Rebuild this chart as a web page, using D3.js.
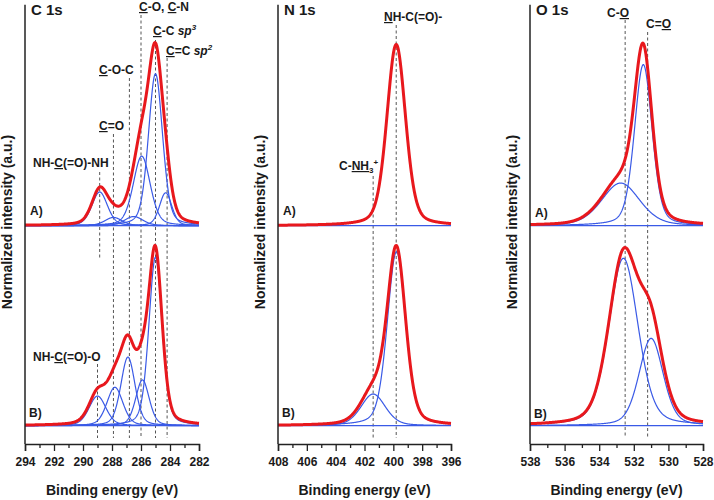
<!DOCTYPE html>
<html><head><meta charset="utf-8">
<script src="https://cdn.jsdelivr.net/npm/d3@7"></script>
<style>
body{margin:0;background:#fff;}
svg text{font-family:"Liberation Sans",Arial,sans-serif;font-weight:bold;fill:#1a1a1a;}
</style></head><body>
<svg id="chart" width="714" height="500"></svg>
<script>
// ---------------- data ----------------
const c1sTicks = [294,293,292,291,290,289,288,287,286,285,284,283,282];
const n1sTicks = [408,407,406,405,404,403,402,401,400,399,398,397,396];
const o1sTicks = [538,537,536,535,534,533,532,531,530,529,528];

// fitted components: centre (eV), peak height (normalised), FWHM (eV)
const c1sA_centers = [288.85, 287.9, 286.5, 285.95, 285.0, 284.3];
const c1sA_heights = [0.184, 0.045, 0.05, 0.38, 0.83, 0.18];
const c1sA_fwhm    = [1.27, 1.4, 1.5, 1.38, 1.15, 1.0];

const c1sB_centers = [289.0, 287.8, 286.9, 285.9, 285.0];
const c1sB_heights = [0.162, 0.21, 0.375, 0.25, 0.92];
const c1sB_fwhm    = [1.38, 1.3, 1.15, 1.1, 1.08];

const n1sA_centers = [399.8];
const n1sA_heights = [0.99];
const n1sA_fwhm    = [1.53];

const n1sB_centers = [401.4, 399.78];
const n1sB_heights = [0.173, 0.95];
const n1sB_fwhm    = [2.0, 1.5];

const o1sA_centers = [532.76, 531.45];
const o1sA_heights = [0.233, 0.88];
const o1sA_fwhm    = [2.6, 1.2];

const o1sB_centers = [532.6, 531.0];
const o1sB_heights = [0.915, 0.477];
const o1sB_fwhm    = [2.0, 1.64];

const lorentzFraction = 0.3;
const offsetA = 1.093, offsetB = 0;

// reference lines (eV)
const c1sLinesA = [288.85];
const c1sLinesB = [289.0];
const c1sLinesAll = [287.9, 286.8, 286.0, 285.0, 284.2];
const n1sLines = [401.4, 399.8];
const o1sLines = [532.5, 531.2];

// ---------------- drawing ----------------
const svg = d3.select("#chart");
const RED = "#e8181d", BLUE = "#3a5ae6";
const y = d3.scaleLinear().domain([-0.1, 2.3]).range([444, 4.8]);

function pv(x, c, h, w){
  const d = (x - c) / w;
  return h * ((1 - lorentzFraction) * Math.exp(-4 * Math.LN2 * d * d) + lorentzFraction / (1 + 4 * d * d));
}

function panel(cfg){
  const x = d3.scaleLinear().domain(cfg.domain).range(cfg.range);
  const g = svg.append("g");
  cfg.lines.forEach(l => {
    g.append("line").attr("x1", x(l.ev)).attr("x2", x(l.ev))
      .attr("y1", l.y1).attr("y2", l.y2)
      .attr("stroke", "#555").attr("stroke-width", 1).attr("stroke-dasharray", "3,2.5");
  });
  const step = 0.02;
  const xs = d3.range(cfg.domain[1], cfg.domain[0] + step/2, step);
  const line = d3.line().x(d => x(d[0])).y(d => y(d[1]));
  cfg.spectra.forEach(s => {
    g.append("line").attr("x1", x(cfg.domain[0])).attr("x2", x(cfg.domain[1]))
      .attr("y1", y(s.offset)).attr("y2", y(s.offset)).attr("stroke", BLUE).attr("stroke-width", 1.2);
    s.centers.forEach((c, i) => {
      const pts = xs.map(e => [e, s.offset + pv(e, c, s.heights[i], s.fwhm[i])]);
      g.append("path").attr("d", line(pts)).attr("fill", "none").attr("stroke", BLUE).attr("stroke-width", 1.2);
    });
  });
  cfg.spectra.forEach(s => {
    const env = xs.map(e => [e, s.offset + d3.sum(s.centers, (c, i) => pv(e, c, s.heights[i], s.fwhm[i]))]);
    g.append("path").attr("d", line(env)).attr("fill", "none").attr("stroke", RED).attr("stroke-width", 3);
  });
  g.append("line").attr("x1", cfg.range[0]).attr("x2", cfg.range[0]).attr("y1", y(2.3)).attr("y2", y(-0.1))
    .attr("stroke", "#222").attr("stroke-width", 1.5);
  const ax = g.append("g").attr("transform", `translate(0,${y(-0.1)})`)
    .call(d3.axisBottom(x).tickValues(cfg.ticks).tickSizeOuter(0).tickSize(7).tickPadding(6)
      .tickFormat(d => d % 2 === 0 ? d : ""));
  ax.select(".domain").attr("stroke", "#222").attr("stroke-width", 1.5);
  ax.selectAll(".tick line").attr("stroke", "#222").attr("stroke-width", 1.3).attr("y2", d => d % 2 === 0 ? 7 : 4);
  ax.selectAll(".tick text").attr("font-size", 12).attr("font-family", "Liberation Sans, Arial, sans-serif")
    .attr("font-weight", "bold").attr("fill", "#1a1a1a");
  g.append("text").attr("x", cfg.range[0] + 6).attr("y", 15).attr("font-size", 15).text(cfg.title);
  g.append("text").attr("x", (cfg.range[0] + cfg.range[1]) / 2).attr("y", 495).attr("text-anchor", "middle")
    .attr("font-size", 14).text("Binding energy (eV)");
  g.append("text").attr("transform", `translate(${cfg.range[0] - 13},222) rotate(-90)`).attr("text-anchor", "middle")
    .attr("font-size", 14).text("Normalized intensity (a.u.)");
  cfg.labels.forEach(lb => {
    const t = g.append("text").attr("x", lb.x).attr("y", lb.y).attr("font-size", 12);
    lb.parts.forEach(p => {
      const ts = t.append("tspan").text(p.t);
      if (p.u) ts.style("text-decoration", "underline");
      if (p.i) ts.attr("font-style", "italic");
      if (p.sup) ts.attr("font-size", 8).attr("dy", -5);
      if (p.sub) ts.attr("font-size", 8).attr("dy", 3);
      if (p.back) ts.attr("dy", p.back);
    });
  });
}

panel({
  title: "C 1s", domain: [294, 282], range: [25, 199], ticks: c1sTicks,
  spectra: [
    {centers: c1sA_centers, heights: c1sA_heights, fwhm: c1sA_fwhm, offset: offsetA},
    {centers: c1sB_centers, heights: c1sB_heights, fwhm: c1sB_fwhm, offset: offsetB}
  ],
  lines: [
    {ev: c1sLinesA[0], y1: 172, y2: 260},
    {ev: c1sLinesB[0], y1: 364, y2: 438},
    {ev: c1sLinesAll[0], y1: 134, y2: 438},
    {ev: c1sLinesAll[1], y1: 78, y2: 438},
    {ev: c1sLinesAll[2], y1: 15, y2: 438},
    {ev: c1sLinesAll[3], y1: 40, y2: 438},
    {ev: c1sLinesAll[4], y1: 58, y2: 438}
  ],
  labels: [
    {x: 139, y: 11, parts: [{t:"C",u:1},{t:"-O, "},{t:"C",u:1},{t:"-N"}]},
    {x: 153, y: 35, parts: [{t:"C",u:1},{t:"-C "},{t:"sp",i:1},{t:"3",i:1,sup:1}]},
    {x: 166, y: 55, parts: [{t:"C",u:1},{t:"=C "},{t:"sp",i:1},{t:"2",i:1,sup:1}]},
    {x: 99, y: 74, parts: [{t:"C",u:1},{t:"-O-C"}]},
    {x: 99, y: 130, parts: [{t:"C",u:1},{t:"=O"}]},
    {x: 33, y: 167, parts: [{t:"NH-"},{t:"C",u:1},{t:"(=O)-NH"}]},
    {x: 30, y: 215, parts: [{t:"A)"}]},
    {x: 33, y: 361, parts: [{t:"NH-"},{t:"C",u:1},{t:"(=O)-O"}]},
    {x: 29, y: 417, parts: [{t:"B)"}]}
  ]
});

panel({
  title: "N 1s", domain: [408, 396], range: [278, 451], ticks: n1sTicks,
  spectra: [
    {centers: n1sA_centers, heights: n1sA_heights, fwhm: n1sA_fwhm, offset: offsetA},
    {centers: n1sB_centers, heights: n1sB_heights, fwhm: n1sB_fwhm, offset: offsetB}
  ],
  lines: [
    {ev: n1sLines[0], y1: 176, y2: 438},
    {ev: n1sLines[1], y1: 25, y2: 438}
  ],
  labels: [
    {x: 384, y: 21, parts: [{t:"N",u:1},{t:"H-C(=O)-"}]},
    {x: 339, y: 170, parts: [{t:"C-"},{t:"NH",u:1},{t:"3",sub:1},{t:"+",sup:1,back:-8}]},
    {x: 283, y: 215, parts: [{t:"A)"}]},
    {x: 282, y: 417, parts: [{t:"B)"}]}
  ]
});

panel({
  title: "O 1s", domain: [538, 528], range: [530, 703], ticks: o1sTicks,
  spectra: [
    {centers: o1sA_centers, heights: o1sA_heights, fwhm: o1sA_fwhm, offset: offsetA},
    {centers: o1sB_centers, heights: o1sB_heights, fwhm: o1sB_fwhm, offset: offsetB}
  ],
  lines: [
    {ev: o1sLines[0], y1: 20, y2: 438},
    {ev: o1sLines[1], y1: 32, y2: 438}
  ],
  labels: [
    {x: 607, y: 17, parts: [{t:"C-"},{t:"O",u:1}]},
    {x: 646, y: 28, parts: [{t:"C="},{t:"O",u:1}]},
    {x: 535, y: 217, parts: [{t:"A)"}]},
    {x: 534, y: 418, parts: [{t:"B)"}]}
  ]
});
</script></body></html>
